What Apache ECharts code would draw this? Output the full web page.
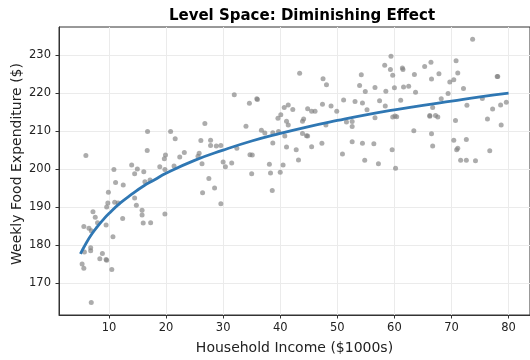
<!DOCTYPE html>
<html>
<head>
<meta charset="utf-8">
<script src="https://cdn.jsdelivr.net/npm/echarts@6/dist/echarts.min.js"></script>
<style>html,body{margin:0;padding:0;background:#fff}#c{width:530px;height:360px}</style>
</head>
<body>
<div id="c"></div>
<script>
var scatterPoints = [
[5.96,203.6],[10.87,199.9],[13.98,201.1],[14.97,200.0],[14.5,198.8],[16.1,199.3],[16.76,209.9],[16.7,204.9],[20.8,209.9],[21.6,208.0],[19.9,203.7],[19.7,202.7],[18.9,200.6],[19.8,199.9],[21.4,200.8],[22.4,203.2],[23.2,204.4],[26.8,212.0],[26.1,207.5],[27.8,207.6],[27.8,206.2],[28.8,206.1],[25.8,204.2],[25.6,203.4],[26.3,201.4],
[11.16,196.5],[9.9,193.9],[12.5,195.8],[16.3,196.7],[17.2,197.1],[14.5,192.4],[14.8,190.5],[15.8,189.2],[15.8,187.9],[16.0,185.8],[17.3,185.9],[19.8,188.2],[12.4,187.0],[9.8,191.1],[9.6,190.0],[11.0,191.3],[11.6,191.1],[7.2,188.8],[7.6,187.3],[5.6,184.9],[6.5,184.4],[6.9,183.8],[8.0,185.9],[9.5,185.3],[10.7,182.2],[5.7,178.2],[6.8,179.3],[6.8,178.5],[8.85,177.8],[8.4,176.4],[9.5,176.2],[9.6,176.0],[5.3,175.0],[5.6,173.9],[10.5,173.6],[6.9,164.9],[26.4,193.8],[27.5,197.5],[28.5,195.0],
[29.6,206.2],[30.0,201.9],[30.4,200.6],[31.5,201.6],[31.95,219.6],[32.4,205.5],[34.0,211.3],[34.6,217.3],[35.9,218.5],[36.0,218.3],[34.7,203.8],[35.1,203.7],[36.7,210.2],[37.3,209.5],[35.0,198.8],[38.1,201.3],[38.3,199.0],[38.7,206.9],[38.7,209.6],[39.6,213.4],[39.7,209.9],[40.0,199.2],[40.5,201.1],[40.1,214.3],[40.7,216.2],[41.4,216.9],[41.1,212.6],[41.4,211.6],[40.8,208.7],[41.1,205.8],[42.2,215.7],[43.4,225.2],[42.8,205.1],[43.2,202.4],[43.9,212.6],[44.1,213.2],[43.9,209.4],[44.6,208.8],[44.8,208.7],[44.8,215.9],[45.5,215.2],[46.1,215.2],[45.5,205.9],[47.3,206.8],[47.4,217.1],[47.5,223.8],[48.1,222.2],[48.0,211.6],[48.9,216.6],[49.9,215.2],[50.9,204.0],[51.1,218.2],[51.6,212.4],[52.6,212.5],[52.6,211.2],[52.6,207.2],[53.1,217.8],[53.9,222.0],[54.2,224.8],[54.4,217.4],[54.4,206.8],[54.8,202.3],[54.9,220.4],
[29.6,190.9],[38.6,194.4],
[55.2,215.6],[56.6,221.5],[57.4,218.0],[58.3,227.3],[58.4,216.6],[58.5,220.5],[56.6,213.5],[56.4,206.7],[57.2,201.4],[59.4,229.7],[59.3,226.2],[59.7,224.7],[60.0,221.4],[59.7,213.7],[60.1,214.0],[60.4,213.8],[59.6,205.1],[60.2,200.2],[61.1,218.1],[61.4,226.6],[61.5,226.2],[61.6,221.6],[62.5,221.8],[63.4,210.1],[63.5,224.9],[63.7,220.2],[65.3,227.0],[66.2,214.1],[66.2,213.9],[66.4,228.1],[66.5,223.7],[66.5,209.3],[66.7,216.2],[66.7,206.1],[67.2,214.1],[67.6,213.7],[67.8,225.1],[68.2,218.5],[69.4,219.9],[69.7,222.9],[70.4,223.5],[70.7,212.8],[70.4,207.6],[70.8,228.5],[71.1,225.3],[70.9,205.1],[71.1,205.5],[71.6,202.3],[72.1,221.2],[72.6,202.3],[72.6,207.8],[72.7,216.8],[73.7,234.2],[74.2,202.2],[75.4,218.6],[76.3,213.2],[76.7,204.8],[77.2,215.8],[78.0,224.4],[78.1,224.4],[78.6,216.9],[78.7,211.6],[79.6,217.6]
];
var curveX = [5,6,7,8,9,10,12,14,16,18,20,25,30,35,40,45,50,55,60,65,70,75,80];
var curveY = [177.7,180.5,182.9,184.9,186.7,188.3,191.1,193.4,195.5,197.2,198.9,202.3,205.0,207.4,209.4,211.2,212.8,214.3,215.6,216.8,217.9,219.0,220.0];
var xTicks = [10,20,30,40,50,60,70,80];
var yTicks = [170,180,190,200,210,220,230];

var font = 'DejaVu Sans';
var chart = echarts.init(document.getElementById('c'), null, {renderer:'canvas'});
chart.setOption({
  animation: false,
  backgroundColor: '#fff',
  title: {
    text: 'Level Space: Diminishing Effect',
    left: 297, top: 4, textAlign: 'center',
    textStyle: {fontFamily: font, fontSize: 15, fontWeight: 'bold', color: '#000'}
  },
  graphic: [{
    type: 'text', x: 17, y: 164, rotation: Math.PI / 2,
    style: {text: 'Weekly Food Expenditure ($)', fontFamily: font, fontSize: 14, fill: '#222', align: 'center', verticalAlign: 'middle'}
  }],
  grid: {left: 59, top: 27, width: 476, bottom: 39, show: true, borderColor: '#333', borderWidth: 1, backgroundColor: 'transparent'},
  xAxis: {
    type: 'value', min: 1.25, max: 83.75, interval: 10,
    name: 'Household Income ($1000s)', nameLocation: 'middle', nameGap: 26,
    nameTextStyle: {fontFamily: font, fontSize: 14, color: '#222'},
    axisLine: {show: true, onZero: false, lineStyle: {color: '#333', width: 1}},
    axisTick: {show: true, length: 3.5, lineStyle: {color: '#333'}, customValues: xTicks},
    axisLabel: {fontFamily: font, fontSize: 11.5, color: '#222', margin: 7, customValues: xTicks},
    splitLine: {show: true, lineStyle: {color: '#ebebeb', width: 1}}
  },
  yAxis: {
    type: 'value', min: 161.6, max: 237.4,
    axisLine: {show: true, onZero: false, lineStyle: {color: '#333', width: 1}},
    axisTick: {show: true, length: 3.5, lineStyle: {color: '#333'}, customValues: yTicks},
    axisLabel: {fontFamily: font, fontSize: 11.5, color: '#222', margin: 8, customValues: yTicks},
    splitLine: {show: true, lineStyle: {color: '#ebebeb', width: 1}}
  },
  series: [
    {
      type: 'scatter',
      data: scatterPoints,
      symbolSize: 5,
      itemStyle: {color: '#808080', opacity: 0.65},
      z: 2
    },
    {
      type: 'line',
      data: curveX.map(function(x, i){ return [x, curveY[i]]; }),
      smooth: true, showSymbol: false, symbol: 'none',
      lineStyle: {color: '#2f77b3', width: 2.8},
      z: 3
    }
  ]
});
</script>
</body>
</html>
